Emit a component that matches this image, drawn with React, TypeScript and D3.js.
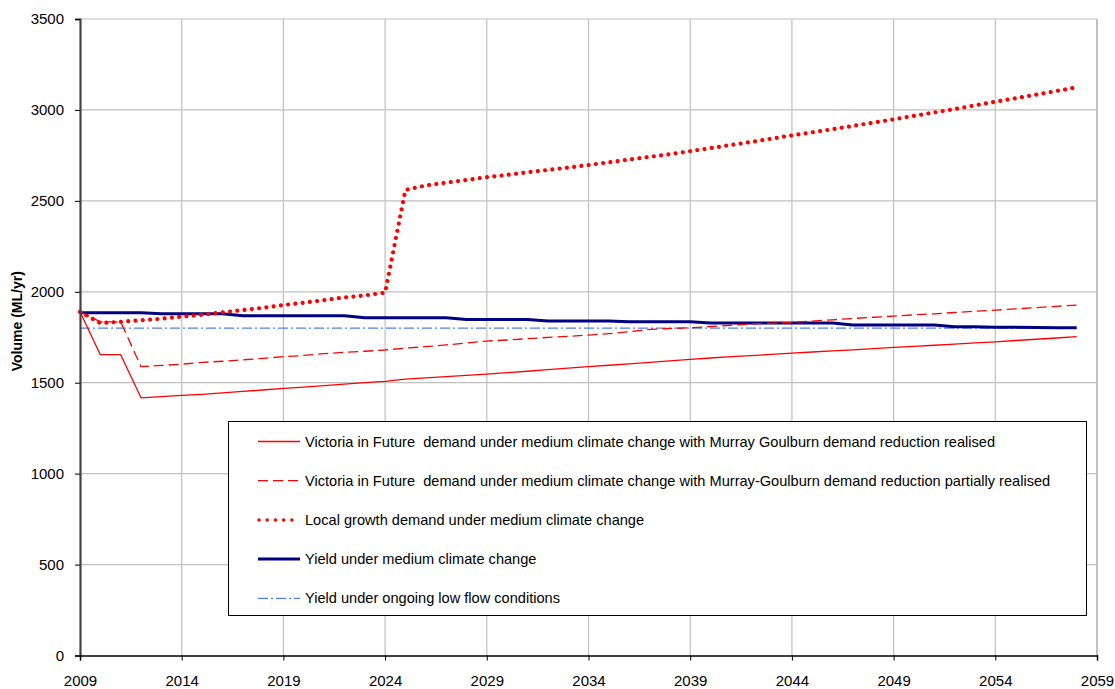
import React, { useEffect, useRef } from "react";
import * as d3 from "d3";

const years: number[] = d3.range(2009, 2059);

const vifRealised: number[] = [
  1890, 1654, 1654, 1417, 1423, 1430, 1436, 1444, 1452, 1460,
  1469, 1476, 1484, 1492, 1500, 1507, 1520, 1527, 1533, 1540,
  1547, 1555, 1563, 1572, 1580, 1588, 1596, 1604, 1612, 1620,
  1628, 1636, 1643, 1649, 1656, 1663, 1669, 1675, 1681, 1688,
  1694, 1700, 1706, 1712, 1719, 1725, 1732, 1739, 1746, 1753,
];

const vifPartial: number[] = [
  1890, 1835, 1835, 1588, 1595, 1602, 1612, 1618, 1626, 1634,
  1643, 1650, 1660, 1667, 1673, 1680, 1690, 1698, 1708, 1718,
  1729, 1735, 1742, 1749, 1755, 1762, 1770, 1780, 1793, 1798,
  1802, 1809, 1816, 1823, 1828, 1832, 1839, 1846, 1853, 1860,
  1866, 1873, 1879, 1886, 1893, 1899, 1906, 1913, 1920, 1927,
];

const localGrowth: number[] = [
  1890, 1828, 1835, 1844, 1852, 1863, 1874, 1887, 1899, 1912,
  1927, 1940, 1954, 1969, 1980, 1995, 2560, 2585, 2600, 2615,
  2630, 2643, 2657, 2670, 2683, 2697, 2712, 2727, 2742, 2757,
  2773, 2790, 2807, 2824, 2842, 2860, 2877, 2894, 2912, 2930,
  2948, 2967, 2986, 3005, 3025, 3045, 3064, 3084, 3104, 3124,
];

const yieldMedium: number[] = [
  1885, 1885, 1885, 1885, 1879, 1879, 1879, 1879, 1868, 1868,
  1868, 1868, 1868, 1868, 1857, 1857, 1857, 1857, 1857, 1848,
  1848, 1848, 1848, 1840, 1840, 1840, 1840, 1835, 1835, 1835,
  1835, 1828, 1828, 1828, 1828, 1828, 1828, 1828, 1817, 1817,
  1817, 1817, 1817, 1808, 1808, 1805, 1805, 1803, 1802, 1802,
];

const yieldLowFlow: number[] = years.map(() => 1800);

const xTicks: number[] = d3.range(2009, 2060, 5);
const yTicks: number[] = d3.range(0, 3501, 500);

const legendLabels: string[] = [
  "Victoria in Future  demand under medium climate change with Murray Goulburn demand reduction realised",
  "Victoria in Future  demand under medium climate change with Murray-Goulburn demand reduction partially realised",
  "Local growth demand under medium climate change",
  "Yield under medium climate change",
  "Yield under ongoing low flow conditions",
];

type Style = { color: string; width: number; dash: string | null; cap: string };
const seriesStyles: Style[] = [
  { color: "#ff0000", width: 1.3, dash: null, cap: "butt" },
  { color: "#ff0000", width: 1.3, dash: "10,5", cap: "butt" },
  { color: "#ff0000", width: 4.2, dash: "0.01,7.3", cap: "round" },
  { color: "#000080", width: 3, dash: null, cap: "butt" },
  { color: "#4d7fff", width: 1.3, dash: "10,3,2,3", cap: "butt" },
];

export default function App() {
  const ref = useRef<SVGSVGElement | null>(null);

  useEffect(() => {
    const svg = d3.select(ref.current);
    svg.selectAll("*").remove();
    const W = 1115, H = 689;
    const left = 80, right = 1097, top = 19, bottom = 655.5;

    const x = d3.scaleLinear().domain([2009, 2059]).range([left, right]);
    const y = d3.scaleLinear().domain([0, 3500]).range([bottom, top]);

    svg.append("rect").attr("width", W).attr("height", H).attr("fill", "#fff");

    const grid = svg.append("g");
    yTicks.forEach((t) => {
      if (t === 0) return;
      grid.append("line").attr("x1", left).attr("x2", right).attr("y1", y(t)).attr("y2", y(t))
        .attr("stroke", "#c0c0c0").attr("stroke-width", 1.2);
    });
    xTicks.forEach((t) => {
      if (t === 2009) return;
      grid.append("line").attr("x1", x(t)).attr("x2", x(t)).attr("y1", top).attr("y2", bottom)
        .attr("stroke", "#c0c0c0").attr("stroke-width", t === 2059 ? 2 : 1.2);
    });

    const series = [vifRealised, vifPartial, localGrowth, yieldMedium, yieldLowFlow];
    const line = d3.line<number>().x((_, i) => x(years[i])).y((d) => y(d));
    const order = [4, 3, 1, 0, 2];
    order.forEach((si) => {
      const s = seriesStyles[si];
      const p = svg.append("path").attr("d", line(series[si]) as string)
        .attr("fill", "none").attr("stroke", s.color).attr("stroke-width", s.width)
        .attr("stroke-linecap", s.cap).attr("stroke-linejoin", "round");
      if (s.dash) p.attr("stroke-dasharray", s.dash);
    });

    // axes
    const yAxis = d3.axisLeft(y).tickValues(yTicks).tickSize(5).tickPadding(11).tickFormat(d3.format("d"));
    const gy = svg.append("g").attr("transform", `translate(${left},0)`).call(yAxis);
    gy.select(".domain").attr("stroke", "#444").attr("stroke-width", 2.2);
    gy.selectAll(".tick line").attr("stroke", "#000");
    gy.selectAll("text").attr("font-family", "Liberation Sans, Arial, sans-serif").attr("font-size", 15).attr("fill", "#000");

    const xAxis = d3.axisBottom(x).tickValues(xTicks).tickSize(5).tickPadding(15).tickFormat(d3.format("d"));
    const gx = svg.append("g").attr("transform", `translate(0,${bottom})`).call(xAxis);
    gx.select(".domain").attr("stroke", "#000").attr("stroke-width", 1.5);
    gx.selectAll(".tick line").attr("stroke", "#000");
    gx.selectAll("text").attr("font-family", "Liberation Sans, Arial, sans-serif").attr("font-size", 15).attr("fill", "#000");

    svg.append("text")
      .attr("transform", `translate(22,${(top + bottom) / 2 - 16}) rotate(-90)`)
      .attr("text-anchor", "middle")
      .attr("font-family", "Liberation Sans, Arial, sans-serif").attr("font-weight", "bold")
      .attr("font-size", 14).text("Volume (ML/yr)");

    // legend
    const lg = svg.append("g");
    lg.append("rect").attr("x", 228.5).attr("y", 421.5).attr("width", 858).attr("height", 194)
      .attr("fill", "#fff").attr("stroke", "#000").attr("stroke-width", 1);
    legendLabels.forEach((lab, i) => {
      const cy = 441.5 + i * 39.2;
      const s = seriesStyles[i];
      const l = lg.append("line").attr("x1", i === 2 ? 259 : 258).attr("x2", 300).attr("y1", cy).attr("y2", cy)
        .attr("stroke", s.color).attr("stroke-width", i === 2 ? 3.5 : s.width).attr("stroke-linecap", s.cap);
      if (s.dash) l.attr("stroke-dasharray", i === 2 ? "0.01,8.2" : s.dash);
      lg.append("text").attr("x", 305).attr("y", cy).attr("dy", "0.35em")
        .attr("font-family", "Liberation Sans, Arial, sans-serif").attr("font-size", 14.6)
        .style("white-space", "pre")
        .attr("fill", "#000").text(lab);
    });
  }, []);

  return (
    <div style={{ position: "fixed", left: 0, top: 0 }}>
      <svg ref={ref} width={1115} height={689} style={{ display: "block" }} />
    </div>
  );
}
